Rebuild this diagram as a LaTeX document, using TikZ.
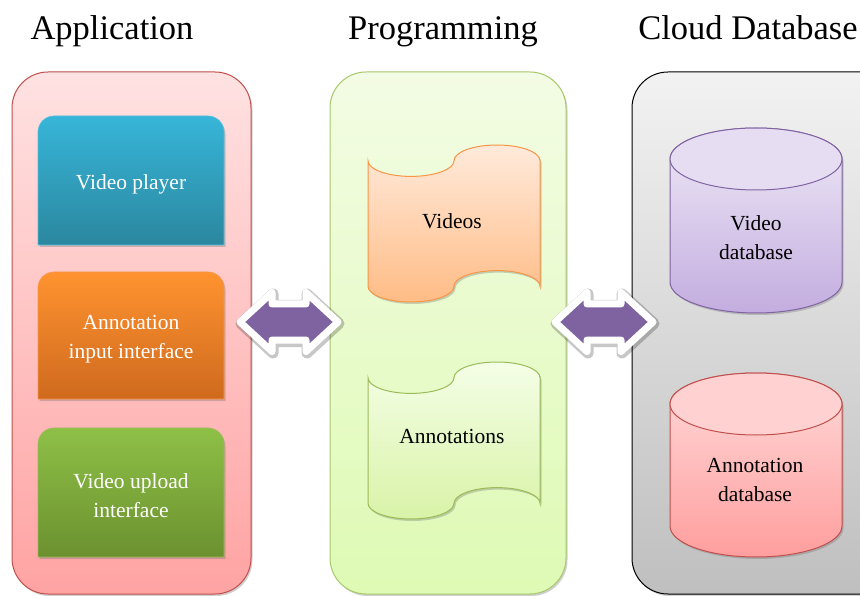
\documentclass[tikz,border=0pt]{standalone}
\usepackage{fontspec}
\setmainfont{Liberation Serif}
\usetikzlibrary{shadows}
\definecolor{appTop}{HTML}{FFE2E2}
\definecolor{appBot}{HTML}{FFA3A3}
\definecolor{appBorder}{HTML}{C0504D}
\definecolor{progTop}{HTML}{F3FCE4}
\definecolor{progBot}{HTML}{DEFAB4}
\definecolor{progBorder}{HTML}{A8C86A}
\definecolor{cloudTop}{HTML}{F2F2F2}
\definecolor{cloudBot}{HTML}{BFBFBF}
\definecolor{vpTop}{HTML}{37B5D8}
\definecolor{vpBot}{HTML}{2B879F}
\definecolor{aiiTop}{HTML}{FF9330}
\definecolor{aiiBot}{HTML}{CF6A1E}
\definecolor{vuiTop}{HTML}{8EC047}
\definecolor{vuiBot}{HTML}{6B912F}
\definecolor{vidTop}{HTML}{FFEADB}
\definecolor{vidBot}{HTML}{FFBC86}
\definecolor{vidBorder}{HTML}{F79646}
\definecolor{annTop}{HTML}{F4FEE6}
\definecolor{annBot}{HTML}{D9F3A8}
\definecolor{annBorder}{HTML}{9BBB59}
\definecolor{vdbTop}{HTML}{EFE9F7}
\definecolor{vdbBot}{HTML}{C3ADDF}
\definecolor{vdbBorder}{HTML}{8064A2}
\definecolor{adbTop}{HTML}{FFDADA}
\definecolor{adbBot}{HTML}{FF9E9E}
\definecolor{adbBorder}{HTML}{C0504D}
\definecolor{arrowFill}{HTML}{7E63A0}
\tikzset{
  softshadow/.style={drop shadow={shadow xshift=1.5pt,shadow yshift=-2pt,opacity=.3,fill=black!60}},
  container/.style={draw, line width=1pt, rounded corners=36pt, minimum width=#1,
    minimum height=522pt, inner sep=0pt, softshadow},
  titletext/.style={font=\fontsize{34.5}{40}\selectfont, anchor=base},
  whitetext/.style={text=white, font=\fontsize{21.5}{29}\selectfont, align=center},
  darktext/.style={text=black, font=\fontsize{21.5}{29}\selectfont, align=center},
  tapeshape/.style={insert path={
    (0,-15.7) .. controls (0,-24.37) and (19.25,-31.4) .. (43,-31.4)
    .. controls (66.75,-31.4) and (86,-24.37) .. (86,-15.7)
    .. controls (86,-7.03) and (105.25,0) .. (129,0)
    .. controls (152.75,0) and (172,-7.03) .. (172,-15.7)
    -- (172,-141.3)
    .. controls (172,-132.63) and (152.75,-125.6) .. (129,-125.6)
    .. controls (105.25,-125.6) and (86,-132.63) .. (86,-141.3)
    .. controls (86,-149.97) and (66.75,-157) .. (43,-157)
    .. controls (19.25,-157) and (0,-149.97) .. (0,-141.3) -- cycle}},
  dblarrow/.style={insert path={
    (-49,0) -- (-17,29.5) -- (-17,18) -- (17,18) -- (17,29.5) -- (49,0)
    -- (17,-29.5) -- (17,-18) -- (-17,-18) -- (-17,-29.5) -- cycle}},
  arrowstyle/.style={fill=arrowFill, draw=white, line width=7pt, line join=round,
    preaction={draw=black, opacity=.22, line width=11pt, line join=round,
      transform canvas={shift={(1pt,-1.5pt)}}}},
}
\begin{document}
\begin{tikzpicture}[x=1pt,y=1pt]
\clip (0,0) rectangle (860,-596);
\fill[white] (0,0) rectangle (860,-596);

% titles
\node[titletext] (tApp) at (112,-40) {Application};
\node[titletext] (tProg) at (443,-40) {Programming};
\node[titletext] (tCloud) at (748,-40) {Cloud Database};

% containers
\node[container=239pt, draw=appBorder, top color=appTop, bottom color=appBot] (app) at (131.5,-333) {};
\node[container=236pt, draw=progBorder, top color=progTop, bottom color=progBot] (prog) at (448,-333) {};
\node[container=268pt, draw=black, top color=cloudTop, bottom color=cloudBot] (cloud) at (766,-333) {};

% application boxes
\path[softshadow, draw=vpTop!85!white, line width=0.6pt, top color=vpTop, bottom color=vpBot]
  (38,-245) [rounded corners=16pt] -- (38,-116) -- (224,-116) [sharp corners] -- (224,-245) -- cycle;
\node[whitetext] (vp) at (131,-184) {Video player};

\path[softshadow, draw=vidBorder, line width=0.6pt, top color=aiiTop, bottom color=aiiBot]
  (38,-399) [rounded corners=16pt] -- (38,-272) -- (224,-272) [sharp corners] -- (224,-399) -- cycle;
\node[whitetext] (aii) at (131,-339) {Annotation\\input interface};

\path[softshadow, draw=annBorder, line width=0.6pt, top color=vuiTop, bottom color=vuiBot]
  (38,-557) [rounded corners=16pt] -- (38,-428) -- (224,-428) [sharp corners] -- (224,-557) -- cycle;
\node[whitetext] (vui) at (131,-496) {Video upload\\interface};

% tapes
\begin{scope}[shift={(368,-145)}]
  \path[softshadow, draw=vidBorder, line width=1pt, top color=vidTop, bottom color=vidBot, tapeshape];
\end{scope}
\node[darktext] (videos) at (452,-221) {Videos};
\begin{scope}[shift={(368,-362)}]
  \path[softshadow, draw=annBorder, line width=1pt, top color=annTop, bottom color=annBot, tapeshape];
\end{scope}
\node[darktext] (annot) at (452,-436) {Annotations};

% cylinders
\path[softshadow, draw=vdbBorder, line width=1pt, top color=vdbTop, bottom color=vdbBot]
  (670,-159) -- (670,-282) arc[start angle=180, end angle=360, x radius=86, y radius=31]
  -- (842,-159) arc[start angle=0, end angle=180, x radius=86, y radius=31] -- cycle;
\draw[vdbBorder, line width=1pt, fill=vdbTop!80!vdbBot] (756,-159) ellipse[x radius=86, y radius=31];
\node[darktext] (vdb) at (756,-238) {Video\\database};

\path[softshadow, draw=adbBorder, line width=1pt, top color=adbTop, bottom color=adbBot]
  (670,-404) -- (670,-526) arc[start angle=180, end angle=360, x radius=86, y radius=31]
  -- (842,-404) arc[start angle=0, end angle=180, x radius=86, y radius=31] -- cycle;
\draw[adbBorder, line width=1pt, fill=adbTop!85!adbBot] (756,-404) ellipse[x radius=86, y radius=31];
\node[darktext] (adb) at (755,-480) {Annotation\\database};

% double arrows
\begin{scope}[shift={(289,-322)}]
  \coordinate (arrowL) at (0,0);
  \path[arrowstyle, dblarrow];
\end{scope}
\begin{scope}[shift={(604,-322)}]
  \coordinate (arrowR) at (0,0);
  \path[arrowstyle, dblarrow];
\end{scope}
\end{tikzpicture}
\end{document}
